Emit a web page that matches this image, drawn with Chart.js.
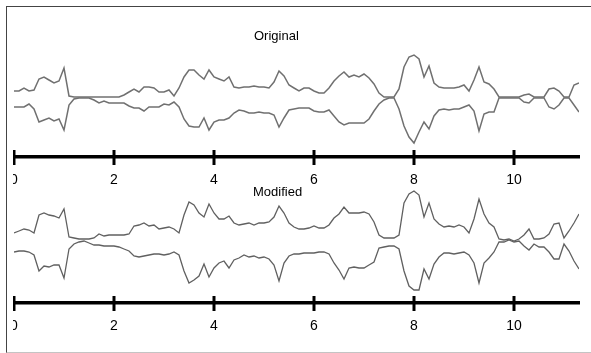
<!DOCTYPE html>
<html>
<head>
<meta charset="utf-8">
<script src="https://cdn.jsdelivr.net/npm/chart.js@4.4.1/dist/chart.umd.min.js"></script>
<style>
  html, body { margin: 0; padding: 0; background: #fff; overflow: hidden; }
  body { width: 591px; height: 353px; position: relative; font-family: "Liberation Sans", Arial, sans-serif; }
  #frame {
    position: absolute; left: 6px; top: 6px; width: 600px; height: 345px;
    border-top: 1px solid #444; border-left: 1px solid #444; border-bottom: 1px solid #c4c4c4;
  }
  canvas { position: absolute; left: 13px; }
  #c1 { top: 30px; }
  #c2 { top: 176px; }
  .ttl { position: absolute; font-size: 13px; line-height: 15px; color: #000; }
</style>
</head>
<body>
<div id="frame"></div>
<canvas id="c1" width="578" height="167"></canvas>
<canvas id="c2" width="578" height="167"></canvas>
<div class="ttl" style="left:254px; top:28px;">Original</div>
<div class="ttl" style="left:253px; top:184px;">Modified</div>
<script>
// sample times (seconds)
const times = [
  0.0, 0.1, 0.2, 0.3, 0.4, 0.5, 0.6, 0.7, 0.8, 0.9,
  1.0, 1.1, 1.2, 1.3, 1.4, 1.5, 1.6, 1.7, 1.8, 1.9,
  2.0, 2.1, 2.2, 2.3, 2.4, 2.5, 2.6, 2.7, 2.8, 2.9,
  3.0, 3.1, 3.2, 3.3, 3.4, 3.5, 3.6, 3.7, 3.8, 3.9,
  4.0, 4.1, 4.2, 4.3, 4.4, 4.5, 4.6, 4.7, 4.8, 4.9,
  5.0, 5.1, 5.2, 5.3, 5.4, 5.5, 5.6, 5.7, 5.8, 5.9,
  6.0, 6.1, 6.2, 6.3, 6.4, 6.5, 6.6, 6.7, 6.8, 6.9,
  7.0, 7.1, 7.2, 7.3, 7.4, 7.5, 7.6, 7.7, 7.8, 7.9,
  8.0, 8.1, 8.2, 8.3, 8.4, 8.5, 8.6, 8.7, 8.8, 8.9,
  9.0, 9.1, 9.2, 9.3, 9.4, 9.5, 9.6, 9.7, 9.8, 9.9,
  10.0, 10.1, 10.2, 10.3, 10.4, 10.5, 10.6, 10.7, 10.8, 10.9,
  11.0, 11.1, 11.2, 11.3
];

// envelope of the original signal
const origUpper = [
  6, 6, 9, 6, 7, 18, 20, 17, 14, 16,
  29, 1, 0, 0, 0, 0, 0, 0, 0, 0,
  0, 0, 2, 5, 8, 5, 10, 10, 9, 5,
  5, 7, 1, 9, 20, 27, 27, 22, 18, 27,
  20, 18, 16, 20, 10, 9, 10, 10, 11, 10,
  10, 9, 15, 26, 21, 12, 9, 6, 9, 9,
  6, 4, 4, 9, 16, 21, 25, 20, 22, 20,
  23, 19, 13, 4, 0, 0, 0, 8, 30, 40,
  42, 38, 20, 31, 14, 10, 9, 9, 9, 10,
  12, 6, 17, 30, 15, 13, 8, 0, 0, 0,
  0, 0, 2, 3, 0, 0, 0, 8, 9, 6,
  0, 0, 12, 14
];
const origLower = [
  -10, -10, -10, -7, -12, -25, -23, -21, -24, -22,
  -33, -8, -2, -1, -1, -1, -3, -6, -4, -6,
  -6, -6, -6, -9, -11, -11, -14, -10, -10, -10,
  -7, -8, -5, -10, -22, -29, -30, -30, -21, -33,
  -25, -23, -23, -21, -16, -13, -14, -16, -16, -15,
  -16, -16, -18, -30, -21, -13, -12, -11, -11, -11,
  -14, -15, -15, -13, -19, -25, -28, -26, -26, -26,
  -26, -22, -14, -7, -3, -1, -1, -12, -29, -40,
  -46, -35, -25, -32, -19, -13, -12, -13, -12, -12,
  -10, -8, -14, -34, -17, -15, -15, -1, -1, -1,
  -1, -1, -5, -6, -1, -1, -1, -10, -12, -8,
  -1, -1, -8, -15
];

// envelope of the modified signal
const modUpper = [
  8, 10, 12, 11, 8, 26, 28, 26, 25, 23,
  32, 4, 3, 2, 2, 2, 3, 7, 5, 6,
  6, 6, 6, 7, 15, 16, 18, 15, 16, 12,
  13, 14, 12, 8, 26, 39, 36, 28, 24, 37,
  28, 22, 22, 25, 18, 16, 17, 18, 16, 18,
  18, 19, 24, 35, 28, 18, 14, 12, 12, 13,
  15, 13, 13, 16, 23, 27, 34, 28, 28, 28,
  29, 27, 19, 6, 3, 3, 3, 6, 38, 47,
  50, 46, 24, 38, 22, 17, 14, 15, 14, 16,
  14, 8, 22, 42, 27, 18, 14, 2, 1, 2,
  0, 2, 6, 12, 2, 2, 3, 7, 17, 18,
  3, 10, 18, 27
];
const modLower = [
  -11, -10, -10, -11, -14, -30, -25, -26, -24, -24,
  -37, -8, -3, -1, 0, -2, -4, -4, -5, -5,
  -5, -6, -8, -10, -15, -16, -15, -14, -13, -13,
  -14, -13, -11, -14, -30, -42, -39, -35, -23, -36,
  -27, -22, -20, -27, -19, -17, -14, -16, -15, -17,
  -16, -18, -24, -40, -22, -15, -13, -13, -12, -12,
  -12, -11, -11, -13, -22, -29, -38, -27, -26, -27,
  -27, -24, -21, -7, -6, -5, -5, -8, -30, -45,
  -49, -49, -28, -38, -23, -16, -12, -12, -13, -12,
  -11, -14, -22, -42, -22, -17, -11, -1, -1, 1,
  -1, 0, -5, -9, -3, -6, -6, -11, -18, -18,
  -3, -10, -20, -28
];

const timeMin = 0;
const timeMax = 11.3;
const tickStep = 2;

function points(vals) {
  return vals.map((v, i) => ({ x: times[i], y: v }));
}

// tick marks that cross the axis line, placed from the x scale's ticks
const crossTicks = {
  id: "crossTicks",
  afterDraw(chart) {
    const sc = chart.scales.x;
    const ctx = chart.ctx;
    const y = chart.chartArea.bottom;
    ctx.save();
    ctx.strokeStyle = "#000";
    ctx.lineWidth = 3;
    sc.ticks.forEach(t => {
      const px = sc.getPixelForValue(t.value);
      ctx.beginPath();
      ctx.moveTo(px, y - 7);
      ctx.lineTo(px, y + 8);
      ctx.stroke();
    });
    ctx.restore();
  }
};

function makePanel(id, upper, lower, yMin, yMax, color, width) {
  const line = {
    borderColor: color,
    borderWidth: width,
    pointRadius: 0,
    tension: 0,
    fill: false
  };
  return new Chart(document.getElementById(id), {
    type: "line",
    data: {
      datasets: [
        Object.assign({ label: "upper", data: points(upper) }, line),
        Object.assign({ label: "lower", data: points(lower) }, line)
      ]
    },
    options: {
      responsive: false,
      animation: false,
      layout: { padding: { left: 1, right: 12, top: 0, bottom: 0 } },
      plugins: { legend: { display: false }, tooltip: { enabled: false } },
      scales: {
        x: {
          type: "linear",
          min: timeMin,
          max: timeMax,
          grid: { display: false, drawTicks: false },
          border: { display: true, color: "#000", width: 3.5 },
          ticks: {
            stepSize: tickStep,
            includeBounds: false,
            color: "#000",
            padding: 15,
            maxRotation: 0,
            font: { family: "'Liberation Sans', Arial, sans-serif", size: 14 }
          },
          afterFit(s) {
            s.height = 40;
            s.paddingLeft = 0;
            s.paddingRight = 0;
          }
        },
        y: { display: false, min: yMin, max: yMax }
      }
    },
    plugins: [crossTicks]
  });
}

makePanel("c1", origUpper, origLower, -60, 67, "#707070", 1.5);
makePanel("c2", modUpper, modLower, -62, 65, "#606060", 1.3);
</script>
</body>
</html>
